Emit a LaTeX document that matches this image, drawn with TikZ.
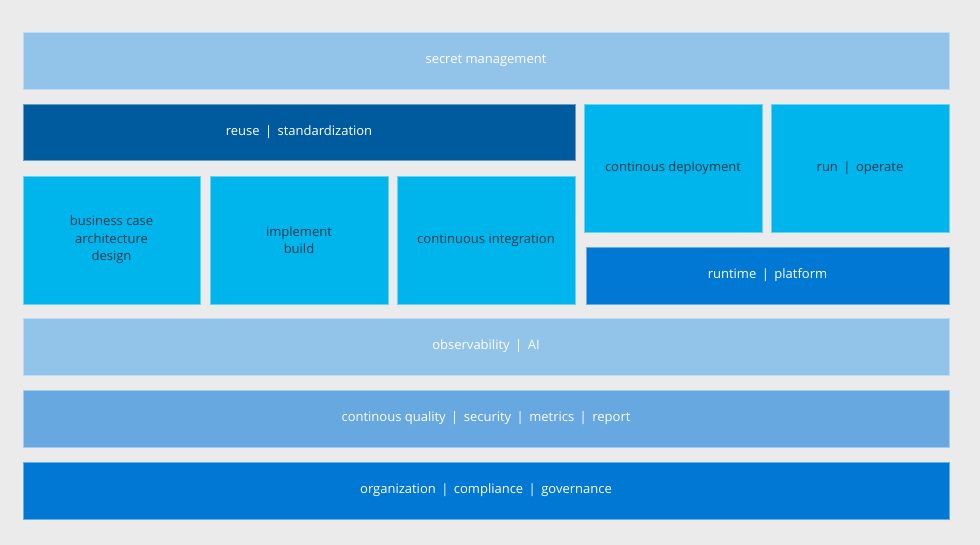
\documentclass[tikz,border=0pt]{standalone}
\usepackage{fontspec}
\setmainfont{Open Sans}
\definecolor{bg}{HTML}{EBEBEB}
\definecolor{lightblue}{HTML}{92C3E9}
\definecolor{darkblue}{HTML}{005A9E}
\definecolor{cyanbox}{HTML}{00B4EC}
\definecolor{midblue}{HTML}{0078D4}
\definecolor{cqblue}{HTML}{68A8E0}
\definecolor{darktext}{HTML}{1E3A4C}
\tikzset{
  blk/.style={anchor=north west, inner sep=0pt, outer sep=0pt, align=center,
    font=\fontsize{13}{17.5}\selectfont, draw=white!40!#1, line width=0.6pt, fill=#1},
  wtext/.style={text=white},
  dtext/.style={text=darktext},
}
\newcommand{\sepbar}{\hspace{0.42em}|\hspace{0.42em}}
\begin{document}
\begin{tikzpicture}[x=1pt,y=-1pt]
\fill[bg] (0,0) rectangle (980,545);
\useasboundingbox (0,0) rectangle (980,545);
\node[blk=lightblue, wtext, minimum width=926pt, minimum height=57pt] (secret) at (23,32) {secret management};
\node[blk=darkblue, wtext, minimum width=552pt, minimum height=56pt] (reuse) at (23,104) {reuse\sepbar standardization};
\node[blk=cyanbox, dtext, minimum width=177pt, minimum height=128pt] (biz) at (23,176) {business case\\architecture\\design};
\node[blk=cyanbox, dtext, minimum width=178pt, minimum height=128pt] (impl) at (210,176) {implement\\build};
\node[blk=cyanbox, dtext, minimum width=178pt, minimum height=128pt] (ci) at (397,176) {continuous integration};
\node[blk=cyanbox, dtext, minimum width=178pt, minimum height=128pt] (cd) at (584,104) {continous deployment};
\node[blk=cyanbox, dtext, minimum width=178pt, minimum height=128pt] (run) at (771,104) {run\sepbar operate};
\node[blk=midblue, wtext, minimum width=363pt, minimum height=57pt] (runtime) at (586,247) {runtime\sepbar platform};
\node[blk=lightblue, wtext, minimum width=926pt, minimum height=57pt] (obs) at (23,318) {observability\sepbar AI};
\node[blk=cqblue, wtext, minimum width=926pt, minimum height=57pt] (cq) at (23,390) {continous quality\sepbar security\sepbar metrics\sepbar report};
\node[blk=midblue, wtext, minimum width=926pt, minimum height=57pt] (org) at (23,462) {organization\sepbar compliance\sepbar governance};
\end{tikzpicture}
\end{document}
